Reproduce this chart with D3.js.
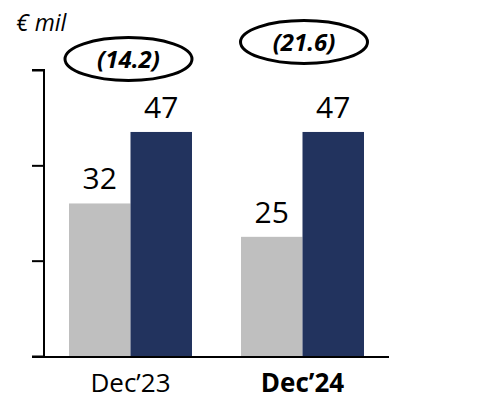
<!DOCTYPE html>
<html>
<head>
<meta charset="utf-8">
<script src="https://cdn.jsdelivr.net/npm/d3@7"></script>
<style>
  html, body { margin: 0; padding: 0; background: #fff; }
  svg { display: block; font-family: "Open Sans", Lato, sans-serif; }
</style>
</head>
<body>
<svg id="chart" width="498" height="399"></svg>
<script>
// Chart data
const categories = ["Dec\u201923", "Dec\u201924"];
const seriesNames = ["Prior", "Current"];
const priorValues = [32, 25];
const currentValues = [47, 47];
const gapLabels = ["(14.2)", "(21.6)"];
const boldCategory = [false, true];
const yTicks = [0, 20, 40, 60];
const unitLabel = "\u20ac mil";

const colors = { Prior: "#bfbfbf", Current: "#22335e" };

const svg = d3.select("#chart");

const x = d3.scaleBand()
  .domain(categories)
  .range([44, 389])
  .paddingInner(0.285)
  .paddingOuter(0.1454);

const xs = d3.scaleBand()
  .domain(seriesNames)
  .range([0, x.bandwidth()])
  .padding(0);

const y = d3.scaleLinear()
  .domain([0, 60])
  .range([356, 70]);

// Bars
const rows = categories.map((c, i) => ({
  cat: c,
  vals: [
    { s: "Prior", v: priorValues[i] },
    { s: "Current", v: currentValues[i] }
  ]
}));

const groups = svg.append("g").selectAll("g")
  .data(rows).join("g")
  .attr("transform", d => `translate(${x(d.cat)},0)`);

groups.selectAll("rect")
  .data(d => d.vals).join("rect")
  .attr("x", d => xs(d.s))
  .attr("y", d => y(d.v))
  .attr("width", xs.bandwidth())
  .attr("height", d => y(0) - y(d.v))
  .attr("fill", d => colors[d.s]);

groups.selectAll("text.val")
  .data(d => d.vals).join("text")
  .attr("class", "val")
  .attr("x", d => xs(d.s) + xs.bandwidth() / 2)
  .attr("y", d => y(d.v) - 14)
  .attr("text-anchor", "middle")
  .attr("font-size", 30)
  .attr("fill", "#000")
  .text(d => d.v);

// Y axis (line and ticks only)
const yAxis = d3.axisLeft(y).tickValues(yTicks).tickSize(12).tickFormat("");
const yg = svg.append("g").attr("transform", "translate(44,0)").call(yAxis);
yg.select(".domain").attr("stroke", "#000").attr("stroke-width", 2).attr("d", `M-12,${y(60)}H0V${y(0)}`);
yg.selectAll(".tick line").attr("stroke", "#000").attr("stroke-width", 2);

// X baseline
svg.append("line")
  .attr("x1", 32).attr("x2", 389)
  .attr("y1", y(0) + 1).attr("y2", y(0) + 1)
  .attr("stroke", "#000").attr("stroke-width", 2);

// Category labels
svg.append("g").selectAll("text")
  .data(categories).join("text")
  .attr("x", d => x(d) + x.bandwidth() / 2)
  .attr("y", 392)
  .attr("text-anchor", "middle")
  .attr("font-size", 26)
  .attr("font-weight", (d, i) => boldCategory[i] ? "bold" : "normal")
  .attr("fill", "#000")
  .text(d => d);

// Gap callouts in ellipses above each group
const calloutY = [59, 42];
const calloutShift = [-2, 1.5];
const callouts = svg.append("g").selectAll("g")
  .data(gapLabels).join("g")
  .attr("transform", (d, i) => `translate(${x(categories[i]) + x.bandwidth() / 2 + calloutShift[i]},${calloutY[i]})`);

callouts.append("ellipse")
  .attr("rx", 63.5).attr("ry", 21.5)
  .attr("fill", "none")
  .attr("stroke", "#000")
  .attr("stroke-width", 3);

callouts.append("text")
  .attr("text-anchor", "middle")
  .attr("dy", "0.36em")
  .attr("font-size", 24)
  .attr("font-weight", "bold")
  .attr("font-style", "italic")
  .attr("fill", "#000")
  .text(d => d);

// Unit label
svg.append("text")
  .attr("x", 16).attr("y", 31)
  .attr("font-size", 23)
  .attr("font-style", "italic")
  .attr("fill", "#000")
  .text(unitLabel);
</script>
</body>
</html>
